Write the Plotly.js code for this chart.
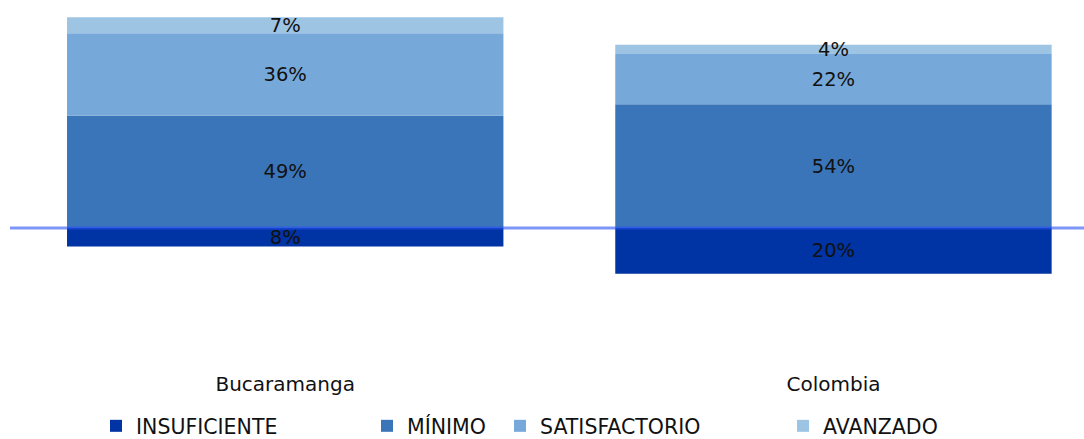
<!DOCTYPE html>
<html>
<head>
<meta charset="utf-8">
<script src="https://cdn.plot.ly/plotly-3.0.1.min.js"></script>
<style>html,body{margin:0;padding:0;background:#fff;}#chart{width:1084px;height:439px;}</style>
</head>
<body>
<div id="chart"></div>
<script>
const categories = ["Bucaramanga", "Colombia"];
const insuficiente = [8, 20];
const minimo = [49, 54];
const satisfactorio = [36, 22];
const avanzado = [7, 4];
const seriesNames = ["INSUFICIENTE", "MÍNIMO", "SATISFACTORIO", "AVANZADO"];
const seriesColors = ["#0033a3", "#3b75b9", "#76a9d9", "#9ec4e4"];

const FONT = "DejaVu Sans, Verdana, sans-serif";
const pct = arr => arr.map(v => v + "%");

function barTrace(name, vals, color, legendId, negative) {
  return {
    type: "bar",
    name: name,
    x: categories,
    y: negative ? vals.map(v => -v) : vals,
    text: pct(vals),
    textposition: "inside",
    insidetextanchor: "middle",
    textangle: 0,
    textfont: {family: FONT, size: 19.5, color: "#111"},
    marker: {color: color, line: {width: 0}},
    width: 0.796,
    legend: legendId,
    hoverinfo: "skip"
  };
}

const data = [
  barTrace(seriesNames[0], insuficiente, seriesColors[0], "legend", true),
  barTrace(seriesNames[1], minimo, seriesColors[1], "legend2", false),
  barTrace(seriesNames[2], satisfactorio, seriesColors[2], "legend3", false),
  barTrace(seriesNames[3], avanzado, seriesColors[3], "legend4", false)
];

function leg(px) {
  return {
    x: (px - 10) / 1074, xanchor: "left",
    y: (368 - 426) / 358, yanchor: "middle",
    orientation: "h",
    bgcolor: "rgba(0,0,0,0)",
    font: {family: FONT, size: 20.5, color: "#111"}
  };
}

const layout = {
  width: 1084, height: 439,
  margin: {l: 10, r: 0, t: 10, b: 71, autoexpand: false},
  paper_bgcolor: "#fff", plot_bgcolor: "#fff",
  barmode: "relative",
  showlegend: true,
  uniformtext: {minsize: 19.5, mode: "show"},
  xaxis: {
    range: [-0.502, 1.457],
    showgrid: false, zeroline: false, showline: false,
    automargin: false,
    ticks: "", ticklabelstandoff: 2,
    tickfont: {family: FONT, size: 20, color: "#111"},
    fixedrange: true
  },
  yaxis: {
    range: [-61.1, 95.2],
    showgrid: false, zeroline: false, showline: false,
    automargin: false,
    showticklabels: false, ticks: "",
    fixedrange: true
  },
  legend: leg(96),
  legend2: leg(367),
  legend3: leg(500),
  legend4: leg(783),
  shapes: [{
    type: "line", xref: "paper", yref: "y",
    x0: 0, x1: 1, y0: 0, y1: 0,
    layer: "above",
    line: {color: "rgba(40,80,245,0.6)", width: 3}
  }]
};

Plotly.newPlot("chart", data, layout, {displayModeBar: false, staticPlot: true});
</script>
</body>
</html>
